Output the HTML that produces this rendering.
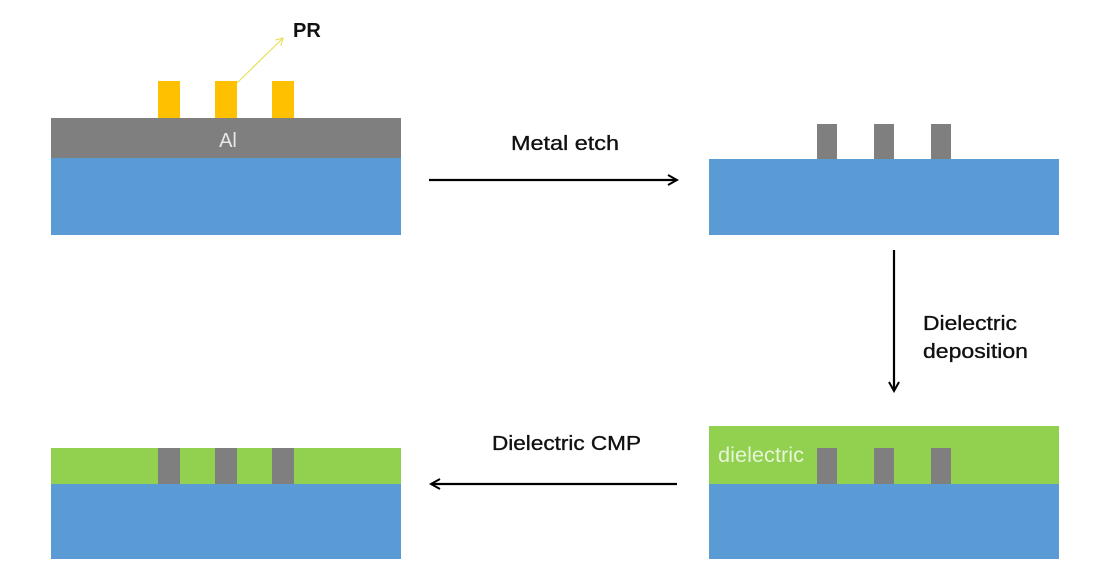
<!DOCTYPE html>
<html><head><meta charset="utf-8"><style>
html,body{margin:0;padding:0;background:#fff;}
svg{display:block;}
text{font-family:"Liberation Sans",sans-serif;}
.lb{font-size:20px;fill:#111;stroke:#111;stroke-width:0.35;}
</style></head><body>
<svg width="1097" height="588" viewBox="0 0 1097 588" xmlns="http://www.w3.org/2000/svg">
<defs>
<marker id="ah" markerWidth="12" markerHeight="12" refX="10" refY="6" orient="auto" markerUnits="userSpaceOnUse">
<path d="M1,1 L10,6 L1,11" fill="none" stroke="#000" stroke-width="2"/>
</marker>
<marker id="ay" markerWidth="10" markerHeight="10" refX="8" refY="5" orient="auto" markerUnits="userSpaceOnUse">
<path d="M1,1 L8,5 L1,9" fill="none" stroke="#e8e060" stroke-width="1.2"/>
</marker>
</defs>
<rect x="51" y="118" width="350" height="41" fill="#7f7f7f"/>
<rect x="51" y="158" width="350" height="77" fill="#5b9bd5"/>
<rect x="158" y="81" width="22" height="37" fill="#ffc000"/>
<rect x="215" y="81" width="22" height="37" fill="#ffc000"/>
<rect x="272" y="81" width="22" height="37" fill="#ffc000"/>
<text x="228" y="147" font-size="20" fill="#e8e8e8" text-anchor="middle">Al</text>
<line x1="237" y1="83" x2="283" y2="38" stroke="#e8e060" stroke-width="1.2" marker-end="url(#ay)"/>
<text x="293" y="37" font-size="20" font-weight="bold" fill="#111">PR</text>
<line x1="429" y1="180" x2="677" y2="180" stroke="#000" stroke-width="2.2" marker-end="url(#ah)"/>
<text class="lb" x="511" y="150" textLength="108" lengthAdjust="spacingAndGlyphs">Metal etch</text>
<rect x="709" y="159" width="350" height="76" fill="#5b9bd5"/>
<rect x="817" y="124" width="20" height="35" fill="#7f7f7f"/>
<rect x="874" y="124" width="20" height="35" fill="#7f7f7f"/>
<rect x="931" y="124" width="20" height="35" fill="#7f7f7f"/>
<line x1="894" y1="250" x2="894" y2="391" stroke="#000" stroke-width="2.2" marker-end="url(#ah)"/>
<text class="lb" x="923" y="330" textLength="94" lengthAdjust="spacingAndGlyphs">Dielectric</text>
<text class="lb" x="923" y="358" textLength="105" lengthAdjust="spacingAndGlyphs">deposition</text>
<rect x="709" y="426" width="350" height="59" fill="#92d050"/>
<rect x="709" y="484" width="350" height="75" fill="#5b9bd5"/>
<rect x="817" y="448" width="20" height="36" fill="#7f7f7f"/>
<rect x="874" y="448" width="20" height="36" fill="#7f7f7f"/>
<rect x="931" y="448" width="20" height="36" fill="#7f7f7f"/>
<text x="718" y="462" font-size="21" fill="#e6f5d6" textLength="86" lengthAdjust="spacingAndGlyphs">dielectric</text>
<line x1="677" y1="484" x2="431" y2="484" stroke="#000" stroke-width="2.2" marker-end="url(#ah)"/>
<text class="lb" x="492" y="450" textLength="149" lengthAdjust="spacingAndGlyphs">Dielectric CMP</text>
<rect x="51" y="448" width="350" height="37" fill="#92d050"/>
<rect x="51" y="484" width="350" height="75" fill="#5b9bd5"/>
<rect x="158" y="448" width="22" height="36" fill="#7f7f7f"/>
<rect x="215" y="448" width="22" height="36" fill="#7f7f7f"/>
<rect x="272" y="448" width="22" height="36" fill="#7f7f7f"/>
</svg>
</body></html>
